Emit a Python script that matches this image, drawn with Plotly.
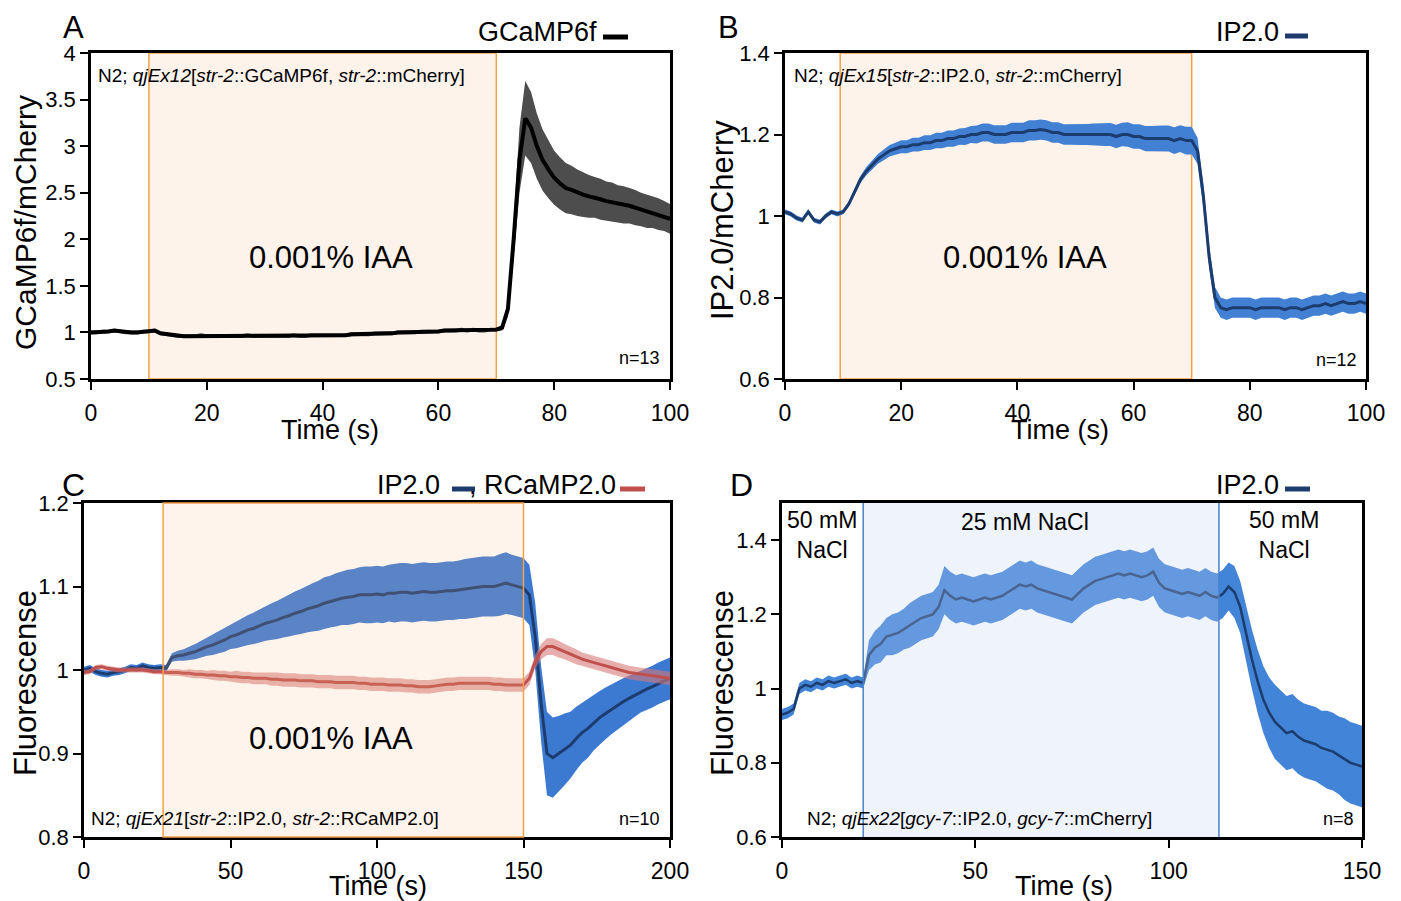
import numpy as np
import plotly.graph_objects as go

# ---------------- DATA ----------------
# Panel A: GCaMP6f / mCherry (t = 0..100 s, 1 s step)
a_time = list(range(0, 101))
a_mean = [1.00,1.00,1.01,1.01,1.02,1.01,1.00,1.00,1.00,1.01,
          1.01,1.02,0.99,0.98,0.97,0.96,0.96,0.96,0.96,0.97,
          0.96,0.96,0.96,0.96,0.96,0.96,0.96,0.97,0.96,0.96,
          0.96,0.96,0.96,0.96,0.96,0.97,0.96,0.96,0.97,0.97,
          0.97,0.97,0.97,0.97,0.97,0.98,0.98,0.98,0.98,0.99,
          0.99,0.99,0.99,1.00,1.00,1.00,1.00,1.01,1.01,1.01,
          1.01,1.02,1.02,1.02,1.03,1.02,1.03,1.02,1.02,1.03,
          1.03,1.05,1.25,2.00,2.85,3.30,3.20,3.00,2.85,2.75,
          2.66,2.60,2.55,2.53,2.50,2.48,2.46,2.45,2.43,2.41,
          2.40,2.38,2.37,2.36,2.34,2.32,2.30,2.29,2.27,2.25,
          2.22]
a_sem = [0.02]*71 + [0.03,0.08,0.20,0.35,0.40,0.38,0.35,0.33,0.31,
         0.29,0.28,0.27,0.26,0.25,0.24,0.23,0.22,0.22,0.21,
         0.21,0.20,0.20,0.19,0.19,0.18,0.18,0.17,0.17,0.16,0.16]

# Panel B: IP2.0 / mCherry (t = 0..100 s, 1 s step)
b_time = list(range(0, 101))
b_mean = [1.01,1.005,0.995,0.99,1.01,0.99,0.985,1.0,1.01,1.005,
          1.01,1.03,1.06,1.09,1.11,1.125,1.14,1.15,1.16,1.165,
          1.17,1.17,1.175,1.175,1.18,1.18,1.185,1.185,1.19,1.19,
          1.195,1.195,1.2,1.2,1.205,1.205,1.2,1.2,1.2,1.205,
          1.205,1.205,1.21,1.21,1.212,1.21,1.205,1.205,1.2,1.2,
          1.2,1.2,1.2,1.2,1.2,1.2,1.2,1.195,1.2,1.2,
          1.195,1.195,1.19,1.19,1.19,1.19,1.19,1.185,1.19,1.185,
          1.185,1.16,1.05,0.9,0.8,0.775,0.77,0.775,0.775,0.775,
          0.775,0.77,0.775,0.775,0.775,0.775,0.77,0.775,0.775,0.77,
          0.775,0.78,0.78,0.785,0.78,0.785,0.79,0.785,0.785,0.79,
          0.785]
b_sem = ([0.006]*10 +
         [0.006,0.007,0.008,0.009,0.010,0.011,0.012,0.013,0.014,0.015] +
         [0.016,0.016,0.017,0.017,0.018,0.018,0.019,0.019,0.020,0.020] +
         [0.020,0.021,0.021,0.022,0.022,0.022,0.023,0.023,0.023,0.024] +
         [0.024,0.024,0.025,0.025,0.025,0.025,0.025,0.025,0.025,0.025] +
         [0.025,0.026,0.026,0.027,0.027,0.028,0.028,0.029,0.029,0.030] +
         [0.030,0.030,0.031,0.031,0.032,0.032,0.032,0.033,0.033,0.034] +
         [0.034,0.032,0.030,0.028,0.026,0.025,0.025,0.025,0.025,0.025] +
         [0.025]*21)

# Panel C: IP2.0 and RCaMP2.0 (t = 0..200 s, 2 s step)
c_time = list(range(0, 201, 2))
c_ip_mean = [1.0,1.002,0.998,0.996,0.995,0.997,0.998,1.0,1.003,1.002,
             1.005,1.003,1.002,1.003,1.002,1.015,1.017,1.018,1.02,1.022,
             1.025,1.028,1.03,1.033,1.036,1.04,1.042,1.045,1.048,1.05,
             1.053,1.056,1.058,1.06,1.063,1.065,1.068,1.07,1.073,1.075,
             1.077,1.08,1.082,1.084,1.086,1.087,1.088,1.09,1.09,1.09,
             1.091,1.09,1.092,1.092,1.093,1.093,1.092,1.093,1.094,1.093,
             1.093,1.094,1.095,1.095,1.096,1.097,1.098,1.099,1.1,1.1,
             1.1,1.102,1.104,1.102,1.1,1.098,1.09,1.04,0.96,0.9,
             0.895,0.9,0.905,0.91,0.918,0.925,0.93,0.937,0.943,0.948,
             0.953,0.958,0.962,0.966,0.97,0.974,0.977,0.98,0.984,0.987,
             0.99]
c_ip_sem = ([0.004]*15 +
            [0.005,0.006,0.007,0.008,0.009] +
            [0.010,0.011,0.012,0.013,0.014,0.015,0.016,0.017,0.018,0.019] +
            [0.020,0.021,0.022,0.023,0.024,0.025,0.026,0.027,0.028,0.029] +
            [0.030,0.031,0.031,0.032,0.032,0.033,0.033,0.033,0.034,0.034] +
            [0.034,0.034,0.034,0.035,0.035,0.035,0.035,0.035,0.035,0.035] +
            [0.035,0.035,0.035,0.035,0.035,0.036,0.036,0.036,0.036,0.036] +
            [0.036,0.037,0.037,0.036,0.036,0.036,0.036,0.040,0.045,0.050] +
            [0.048,0.045,0.043,0.040,0.038,0.036,0.035,0.033,0.032,0.031] +
            [0.030,0.029,0.028,0.027,0.026,0.025,0.025,0.025,0.025,0.025,0.025])
c_rc_mean = [0.997,0.998,1.003,1.004,1.002,1.001,1.0,1.0,1.0,1.0,
             1.0,0.999,0.998,0.998,0.997,0.997,0.997,0.996,0.996,0.995,
             0.995,0.994,0.994,0.993,0.993,0.992,0.992,0.991,0.991,0.99,
             0.99,0.99,0.989,0.989,0.988,0.988,0.988,0.987,0.987,0.987,
             0.986,0.986,0.986,0.985,0.985,0.985,0.985,0.984,0.984,0.983,
             0.983,0.983,0.982,0.982,0.982,0.981,0.981,0.98,0.98,0.98,
             0.981,0.982,0.983,0.983,0.984,0.984,0.984,0.984,0.984,0.984,
             0.983,0.983,0.982,0.982,0.982,0.982,0.99,1.01,1.022,1.028,
             1.028,1.025,1.022,1.019,1.016,1.013,1.011,1.009,1.007,1.005,
             1.003,1.001,0.999,0.997,0.996,0.995,0.994,0.993,0.992,0.991,
             0.99]
c_rc_sem = ([0.003]*15 +
            [0.004,0.004,0.004,0.005,0.005] +
            [0.005,0.005,0.006,0.006,0.006,0.006,0.007,0.007,0.007,0.007] +
            [0.007,0.007,0.008,0.008,0.008,0.008,0.008,0.008,0.008,0.008] +
            [0.008]*30 +
            [0.008,0.008,0.008,0.008,0.008,0.008,0.008,0.008,0.009,0.010] +
            [0.010,0.010,0.009,0.009,0.009,0.008,0.008,0.008,0.008,0.008] +
            [0.008]*11)

# Panel D: IP2.0 in ASER (t = 0..150 s, 1.5 s step)
d_time = [i * 1.5 for i in range(101)]
d_mean = [0.93,0.935,0.945,1.0,1.01,1.005,1.015,1.01,1.02,1.015,
          1.02,1.025,1.015,1.02,1.015,1.09,1.11,1.12,1.14,1.145,
          1.15,1.16,1.17,1.18,1.19,1.195,1.2,1.22,1.265,1.25,
          1.24,1.245,1.24,1.235,1.24,1.245,1.24,1.245,1.25,1.26,
          1.27,1.28,1.275,1.28,1.27,1.265,1.26,1.255,1.25,1.245,
          1.24,1.255,1.27,1.28,1.29,1.295,1.3,1.305,1.31,1.305,
          1.31,1.305,1.3,1.305,1.315,1.285,1.27,1.265,1.26,1.255,
          1.26,1.255,1.25,1.26,1.25,1.245,1.255,1.275,1.26,1.22,
          1.15,1.08,1.02,0.97,0.935,0.91,0.895,0.88,0.885,0.87,
          0.86,0.855,0.85,0.84,0.835,0.83,0.82,0.81,0.8,0.795,
          0.79]
d_sem = ([0.015]*15 +
         [0.040,0.045,0.050,0.050,0.055] +
         [0.055,0.055,0.060,0.060,0.060,0.060,0.060,0.060,0.065,0.065] +
         [0.065]*46 +
         [0.065,0.065,0.070,0.070] +
         [0.075,0.080,0.085,0.090,0.095,0.100,0.100,0.100,0.100,0.100] +
         [0.100,0.100,0.100,0.100,0.105,0.105,0.105,0.110,0.110,0.110,0.110])

# stimulus periods (s)
a_stim = [10, 70]
b_stim = [9.5, 70]
c_stim = [27, 150]
d_stim = [21, 113]

# ---------------- FIGURE ----------------
W, H = 1401, 901
OFF = 8  # page body margin
def px(x): return (x - OFF) / W
def py(y): return 1 - (y - OFF) / H

FONT = "Liberation Sans, Arial, sans-serif"
fig = go.Figure()

def band(x, m, s, color, xa, ya):
    x = np.array(x, float); m = np.array(m, float); s = np.array(s, float)
    up, lo = m + s, m - s
    fig.add_trace(go.Scatter(x=np.concatenate([x, x[::-1]]), y=np.concatenate([up, lo[::-1]]),
                             fill="toself", fillcolor=color, line=dict(width=0),
                             mode="lines", hoverinfo="skip", showlegend=False,
                             xaxis=xa, yaxis=ya))

def mean_line(x, m, color, w, xa, ya):
    fig.add_trace(go.Scatter(x=x, y=m, mode="lines", line=dict(color=color, width=w),
                             showlegend=False, xaxis=xa, yaxis=ya))

NAVY = "#1d3c6e"
BLUE_B = "rgb(66,128,212)"
band(a_time, a_mean, a_sem, "#4d4d4d", "x", "y")
mean_line(a_time, a_mean, "black", 4, "x", "y")
band(b_time, b_mean, b_sem, BLUE_B, "x2", "y2")
mean_line(b_time, b_mean, NAVY, 3, "x2", "y2")
band(c_time, c_ip_mean, c_ip_sem, "rgb(60,122,210)", "x3", "y3")
mean_line(c_time, c_ip_mean, NAVY, 3, "x3", "y3")
band(c_time, c_rc_mean, c_rc_sem, "rgba(214,120,118,0.6)", "x3", "y3")
mean_line(c_time, c_rc_mean, "#c0504d", 3, "x3", "y3")
band(d_time, d_mean, d_sem, "rgb(66,132,215)", "x4", "y4")
mean_line(d_time, d_mean, NAVY, 2.5, "x4", "y4")

def xax(dom, rng, dtick, anchor):
    return dict(domain=dom, range=rng, dtick=dtick, tick0=0, ticks="outside", ticklen=8,
                tickwidth=2, tickcolor="black", showline=True, linewidth=2.5, linecolor="black",
                mirror=True, showgrid=False, zeroline=False, ticklabelstandoff=4, anchor=anchor,
                automargin=False,
                tickfont=dict(family=FONT, size=23, color="black"), fixedrange=True)

def yax(dom, rng, tickvals, anchor):
    return dict(domain=dom, range=rng, tickvals=tickvals, ticks="outside", ticklen=8,
                tickwidth=2, tickcolor="black", showline=True, linewidth=2.5, linecolor="black",
                mirror=True, showgrid=False, zeroline=False, anchor=anchor, automargin=False,
                tickfont=dict(family=FONT, size=22, color="black"), fixedrange=True)

yA = [py(379), py(53)]
yC = [py(837), py(503)]
fig.update_layout(
    width=W, height=H, margin=dict(l=0, r=0, t=0, b=0, autoexpand=False),
    paper_bgcolor="white", plot_bgcolor="white", showlegend=False,
    xaxis=xax([px(91), px(670)], [0, 100], 20, "y"),
    yaxis=yax(yA, [0.5, 4], [0.5, 1, 1.5, 2, 2.5, 3, 3.5, 4], "x"),
    xaxis2=xax([px(785), px(1366)], [0, 100], 20, "y2"),
    yaxis2=yax(yA, [0.6, 1.4], [0.6, 0.8, 1, 1.2, 1.4], "x2"),
    xaxis3=xax([px(84), px(670)], [0, 200], 50, "y3"),
    yaxis3=yax(yC, [0.8, 1.2], [0.8, 0.9, 1, 1.1, 1.2], "x3"),
    xaxis4=xax([px(782), px(1362)], [0, 150], 50, "y4"),
    yaxis4=yax(yC, [0.6, 1.5], [0.6, 0.8, 1, 1.2, 1.4], "x4"),
)

# stimulus shading
ORANGE_FILL = "rgb(253,243,234)"
ORANGE_LINE = "rgb(246,160,72)"
for xr, yr, st in [("x", "y domain", a_stim), ("x2", "y2 domain", b_stim)]:
    fig.add_shape(type="rect", xref=xr, yref=yr, x0=st[0], x1=st[1], y0=0, y1=1,
                  fillcolor=ORANGE_FILL, line=dict(color=ORANGE_LINE, width=1.5), layer="below")
# panel C: translucent overlay above the traces
fig.add_shape(type="rect", xref="x3", yref="y3 domain", x0=c_stim[0], x1=c_stim[1], y0=0, y1=1,
              fillcolor="rgba(250,188,136,0.16)", line=dict(color=ORANGE_LINE, width=1.5), layer="above")
# panel D: translucent blue overlay above the traces
fig.add_shape(type="rect", xref="x4", yref="y4 domain", x0=d_stim[0], x1=d_stim[1], y0=0, y1=1,
              fillcolor="rgba(196,212,244,0.27)", line=dict(width=0), layer="above")
for xv in d_stim:
    fig.add_shape(type="line", xref="x4", yref="y4 domain", x0=xv, x1=xv, y0=0, y1=1,
                  line=dict(color="rgb(74,130,205)", width=1.5), layer="above")

def ann(text, x, y, size, xanchor="center", yanchor="middle", angle=0, color="black"):
    fig.add_annotation(text=text, x=px(x), y=py(y), xref="paper", yref="paper",
                       showarrow=False, xanchor=xanchor, yanchor=yanchor, textangle=angle,
                       font=dict(family=FONT, size=size, color=color))

# panel letters
ann("A", 73, 8, 31, yanchor="top"); ann("B", 728, 8, 31, yanchor="top")
ann("C", 73, 485, 32); ann("D", 741, 485, 32)

# y titles
ann("GCaMP6f/mCherry", 26, 223, 30, angle=-90)
ann("IP2.0/mCherry", 722, 220, 31, angle=-90)
ann("Fluorescense", 25, 683, 31, angle=-90)
ann("Fluorescense", 722, 683, 31, angle=-90)
# x titles
ann("Time (s)", 330, 430, 27); ann("Time (s)", 1060, 430, 27)
ann("Time (s)", 378, 886, 27); ann("Time (s)", 1064, 886, 27)

# stimulus labels
ann("0.001% IAA", 331, 258, 31); ann("0.001% IAA", 1025, 258, 31); ann("0.001% IAA", 331, 738, 31)
ann("50 mM<br>NaCl", 822, 535, 23); ann("25 mM NaCl", 1025, 522, 23); ann("50 mM<br>NaCl", 1284, 535, 23)

# genotype labels
ann("N2; <i>qjEx12</i>[<i>str-2</i>::GCaMP6f, <i>str-2</i>::mCherry]", 96, 76, 19, xanchor="left")
ann("N2; <i>qjEx15</i>[<i>str-2</i>::IP2.0, <i>str-2</i>::mCherry]", 792, 76, 19, xanchor="left")
ann("N2; <i>qjEx21</i>[<i>str-2</i>::IP2.0, <i>str-2</i>::RCaMP2.0]", 89, 818, 19, xanchor="left")
ann("N2; <i>qjEx22</i>[<i>gcy-7</i>::IP2.0, <i>gcy-7</i>::mCherry]", 805, 818, 19, xanchor="left")
ann("n=13", 662, 358, 18, xanchor="right"); ann("n=12", 1359, 360, 18, xanchor="right")
ann("n=10", 662, 819, 18, xanchor="right"); ann("n=8", 1356, 819, 18, xanchor="right")

# legend-like labels
ann("GCaMP6f", 599, 32, 27, xanchor="right")
ann("IP2.0", 1281, 32, 27, xanchor="right")
ann("IP2.0", 442, 485, 27, xanchor="right")
ann(", RCaMP2.0", 467, 485, 27, xanchor="left")
ann("IP2.0", 1281, 485, 27, xanchor="right")

def legline(x0, x1, y, color):
    fig.add_shape(type="line", xref="paper", yref="paper", x0=px(x0), x1=px(x1), y0=py(y), y1=py(y),
                  line=dict(color=color, width=5))
legline(603, 628, 37, "black")
legline(1285, 1308, 36, NAVY)
legline(452, 475, 489, NAVY)
legline(620, 645, 489, "#c0504d")
legline(1285, 1310, 489, NAVY)

fig.write_html("out.html")
